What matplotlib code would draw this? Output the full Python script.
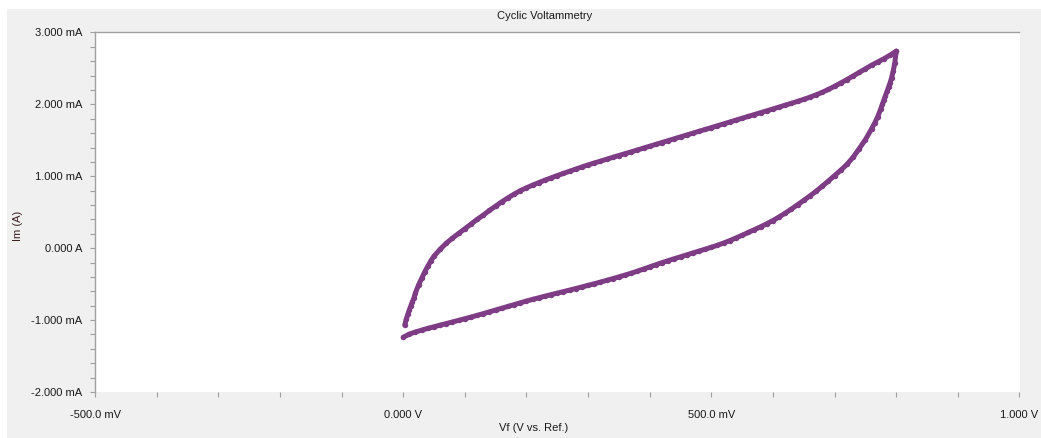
import matplotlib
matplotlib.use("Agg")
import matplotlib.pyplot as plt
from matplotlib.patches import Rectangle

plt.rcParams['font.family'] = ['Liberation Sans', 'DejaVu Sans']

# forward sweep (V vs. Ref., current in mA)
fwd_v = [0.0025, 0.005, 0.0075, 0.010, 0.0125, 0.015, 0.0175, 0.020, 0.025, 0.030,
         0.035, 0.040, 0.045, 0.050, 0.060, 0.070, 0.080, 0.090, 0.100, 0.110,
         0.120, 0.130, 0.140, 0.150, 0.160, 0.170, 0.180, 0.190, 0.200, 0.210,
         0.220, 0.230, 0.240, 0.250, 0.260, 0.270, 0.280, 0.290, 0.300, 0.310,
         0.320, 0.330, 0.340, 0.350, 0.360, 0.370, 0.380, 0.390, 0.400, 0.410,
         0.420, 0.430, 0.440, 0.450, 0.460, 0.470, 0.480, 0.490, 0.500, 0.510,
         0.520, 0.530, 0.540, 0.550, 0.560, 0.570, 0.580, 0.590, 0.600, 0.610,
         0.620, 0.630, 0.640, 0.650, 0.660, 0.670, 0.680, 0.690, 0.700, 0.710,
         0.720, 0.730, 0.740, 0.750, 0.760, 0.770, 0.780, 0.790, 0.800]
fwd_i = [-1.07, -0.99, -0.92, -0.86, -0.80, -0.745, -0.69, -0.62, -0.51, -0.42,
         -0.33, -0.25, -0.175, -0.11, -0.015, 0.07, 0.14, 0.205, 0.27, 0.335,
         0.40, 0.46, 0.525, 0.585, 0.645, 0.70, 0.752, 0.80, 0.84, 0.877,
         0.912, 0.946, 0.978, 1.01, 1.04, 1.07, 1.10, 1.13, 1.158, 1.185,
         1.21, 1.237, 1.263, 1.289, 1.315, 1.34, 1.366, 1.392, 1.418, 1.444,
         1.47, 1.496, 1.522, 1.548, 1.574, 1.60, 1.626, 1.651, 1.677, 1.703,
         1.729, 1.755, 1.781, 1.807, 1.833, 1.859, 1.885, 1.91, 1.937, 1.963,
         1.99, 2.015, 2.042, 2.07, 2.10, 2.133, 2.168, 2.208, 2.252, 2.298,
         2.345, 2.395, 2.445, 2.495, 2.545, 2.59, 2.635, 2.685, 2.74]

# reverse sweep
rev_v = [0.800, 0.7975, 0.795, 0.7925, 0.790, 0.7875, 0.785, 0.7825, 0.780, 0.7775,
         0.775, 0.770, 0.765, 0.760, 0.750, 0.740, 0.730, 0.720, 0.710, 0.700,
         0.690, 0.680, 0.670, 0.660, 0.650, 0.640, 0.630, 0.620, 0.610, 0.600,
         0.590, 0.580, 0.570, 0.560, 0.550, 0.540, 0.530, 0.520, 0.510, 0.500,
         0.490, 0.480, 0.470, 0.460, 0.450, 0.440, 0.430, 0.420, 0.410, 0.400,
         0.390, 0.380, 0.370, 0.360, 0.350, 0.340, 0.330, 0.320, 0.310, 0.300,
         0.290, 0.280, 0.270, 0.260, 0.250, 0.240, 0.230, 0.220, 0.210, 0.200,
         0.190, 0.180, 0.170, 0.160, 0.150, 0.140, 0.130, 0.120, 0.110, 0.100,
         0.090, 0.080, 0.070, 0.060, 0.050, 0.040, 0.030, 0.020, 0.010, 0.000]
rev_i = [2.74, 2.57, 2.46, 2.37, 2.30, 2.24, 2.18, 2.12, 2.06, 2.00,
         1.94, 1.83, 1.74, 1.66, 1.51, 1.385, 1.265, 1.165, 1.085, 1.01,
         0.935, 0.862, 0.792, 0.728, 0.665, 0.605, 0.545, 0.488, 0.435, 0.385,
         0.34, 0.298, 0.258, 0.219, 0.18, 0.142, 0.106, 0.072, 0.041, 0.013,
         -0.014, -0.04, -0.066, -0.093, -0.12, -0.146, -0.173, -0.201, -0.23, -0.26,
         -0.29, -0.32, -0.348, -0.374, -0.399, -0.424, -0.448, -0.472, -0.495, -0.517,
         -0.539, -0.561, -0.583, -0.604, -0.625, -0.646, -0.668, -0.69, -0.712, -0.735,
         -0.76, -0.785, -0.81, -0.835, -0.86, -0.885, -0.91, -0.935, -0.958, -0.981,
         -1.004, -1.026, -1.048, -1.07, -1.093, -1.115, -1.14, -1.165, -1.195, -1.24]

x_ticks = [-0.5, 0.0, 0.5, 1.0]
x_tick_labels = ['-500.0 mV', '0.000 V', '500.0 mV', '1.000 V']
y_ticks = [-2, -1, 0, 1, 2, 3]
y_tick_labels = ['-2.000 mA', '-1.000 mA', '0.000 A', '1.000 mA', '2.000 mA', '3.000 mA']

W, H = 1041, 438
fig = plt.figure(figsize=(W / 100, H / 100), dpi=100)
fig.patch.set_facecolor('white')
fig.patches.append(Rectangle((7 / W, 0), 1 - 7 / W, (H - 9) / H,
                             transform=fig.transFigure, facecolor='#f0f0f0',
                             edgecolor='none', zorder=-10))

ax = fig.add_axes([95 / W, 1 - 392 / H, (1019.5 - 95) / W, (392 - 32.5) / H])
ax.set_facecolor('white')

purple = '#7d3c84'
for v, i in [(fwd_v, fwd_i), (rev_v, rev_i)]:
    ax.plot(v, i, color=purple, lw=3.6, marker='o', ms=3.9, mew=0,
            solid_capstyle='round', solid_joinstyle='round', clip_on=False)

ax.set_xlim(-0.5, 1.0)
ax.set_ylim(-2, 3)

for s in ['right', 'bottom']:
    ax.spines[s].set_visible(False)
for s in ['left', 'top']:
    ax.spines[s].set_color('#a0a0a0')
    ax.spines[s].set_linewidth(1.0)

ax.set_xticks(x_ticks)
ax.set_xticklabels(x_tick_labels)
ax.set_xticks([k / 10 for k in range(-5, 11)], minor=True)
ax.set_yticks(y_ticks)
ax.set_yticklabels(y_tick_labels)
ax.set_yticks([k / 5 for k in range(-10, 16)], minor=True)

ax.tick_params(which='both', color='#a0a0a0', length=3.3, width=0.8,
               labelsize=8, labelcolor='#1a1a1a')
ax.tick_params(axis='x', which='major', pad=10)
ax.tick_params(axis='y', which='major', pad=6)

fig.text(545 / W, 1 - 16 / H, 'Cyclic Voltammetry', ha='center', va='center',
         fontsize=8, color='#1a1a1a')
fig.text(534 / W, 1 - 428 / H, 'Vf (V vs. Ref.)', ha='center', va='center',
         fontsize=8, color='#1a1a1a')
fig.text(18 / W, 1 - 226 / H, 'Im (A)', ha='center', va='center', rotation=90,
         fontsize=8, color='#3a1e1e')

fig.savefig('out.png', dpi=100)
